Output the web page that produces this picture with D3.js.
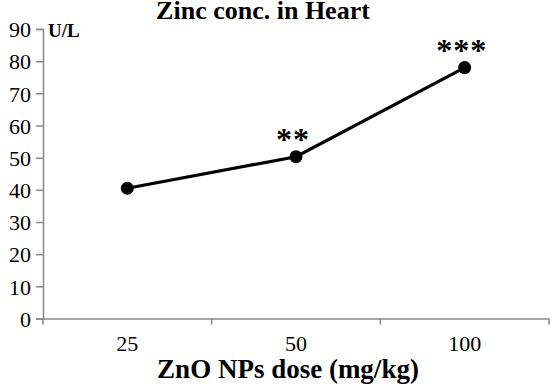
<!DOCTYPE html>
<html>
<head>
<meta charset="utf-8">
<script src="https://cdn.jsdelivr.net/npm/d3@7"></script>
<style>
  body { margin: 0; background: #fff; }
</style>
</head>
<body>
<div id="viz"></div>
<script>
// Chart data
const doses = ["25", "50", "100"];
const zinc = [40.5, 50.3, 78];
const stars = ["", "**", "***"];
const yTicks = [0, 10, 20, 30, 40, 50, 60, 70, 80, 90];

const dims = { width: 552, height: 385, left: 43, right: 549, top: 29, bottom: 318.5 };
const serif = "'Liberation Serif', 'Times New Roman', 'DejaVu Serif', serif";

const svg = d3.select("#viz")
    .append("svg")
    .attr("width", dims.width)
    .attr("height", dims.height)
    .style("font-family", serif);

const yScale = d3.scaleLinear()
    .domain([0, 90])
    .range([dims.bottom, dims.top]);

const xScale = d3.scaleBand()
    .domain(doses)
    .range([dims.left, dims.right]);

const cx = d => xScale(d) + xScale.bandwidth() / 2;

// y axis
const yAxis = svg.append("g")
    .attr("transform", `translate(${dims.left},0)`)
    .call(d3.axisLeft(yScale).tickValues(yTicks).tickSize(7).tickPadding(5));
yAxis.attr("font-family", null);
yAxis.select(".domain").attr("stroke", "#888").attr("stroke-width", 1.5);
yAxis.selectAll(".tick line").attr("stroke", "#888").attr("stroke-width", 1.5);
yAxis.selectAll(".tick text")
    .attr("fill", "#000")
    .style("font-family", serif)
    .style("font-size", "22px")
    .attr("dy", "0.35em");

// x axis
const xAxis = svg.append("g")
    .attr("transform", `translate(0,${dims.bottom})`)
    .call(d3.axisBottom(xScale).tickSize(0).tickPadding(17));
xAxis.attr("font-family", null);
xAxis.select(".domain").attr("stroke", "#888").attr("stroke-width", 1.5);
xAxis.selectAll(".tick text")
    .attr("fill", "#000")
    .style("font-family", serif)
    .style("font-size", "22px");

// category separators on x axis
svg.append("g")
    .selectAll("line")
    .data([dims.left, ...doses.map(d => xScale(d) + xScale.bandwidth())])
    .join("line")
    .attr("x1", d => d).attr("x2", d => d)
    .attr("y1", dims.bottom).attr("y2", dims.bottom + 6)
    .attr("stroke", "#888")
    .attr("stroke-width", 1.5);

// line + markers
const line = d3.line()
    .x((d, i) => cx(doses[i]))
    .y(d => yScale(d));

svg.append("path")
    .datum(zinc)
    .attr("d", line)
    .attr("fill", "none")
    .attr("stroke", "#000")
    .attr("stroke-width", 3.2);

svg.append("g")
    .selectAll("circle")
    .data(zinc)
    .join("circle")
    .attr("cx", (d, i) => cx(doses[i]))
    .attr("cy", d => yScale(d))
    .attr("r", 6.5)
    .attr("fill", "#000");

// significance stars
svg.append("g")
    .selectAll("text")
    .data(zinc)
    .join("text")
    .attr("x", (d, i) => cx(doses[i]) - 3)
    .attr("y", d => yScale(d) - 7)
    .attr("text-anchor", "middle")
    .style("font-family", serif)
    .style("font-size", "32px")
    .style("font-weight", "bold")
    .style("letter-spacing", "1px")
    .text((d, i) => stars[i]);

// titles
svg.append("text")
    .attr("x", 263)
    .attr("y", 19)
    .attr("text-anchor", "middle")
    .style("font-family", serif)
    .style("font-size", "26px")
    .style("font-weight", "bold")
    .text("Zinc conc. in Heart");

svg.append("text")
    .attr("x", 48)
    .attr("y", 37)
    .style("font-family", serif)
    .style("font-size", "19px")
    .style("font-weight", "bold")
    .text("U/L");

svg.append("text")
    .attr("x", 288)
    .attr("y", 378)
    .attr("text-anchor", "middle")
    .style("font-family", serif)
    .style("font-size", "27px")
    .style("font-weight", "bold")
    .text("ZnO NPs dose (mg/kg)");
</script>
</body>
</html>
